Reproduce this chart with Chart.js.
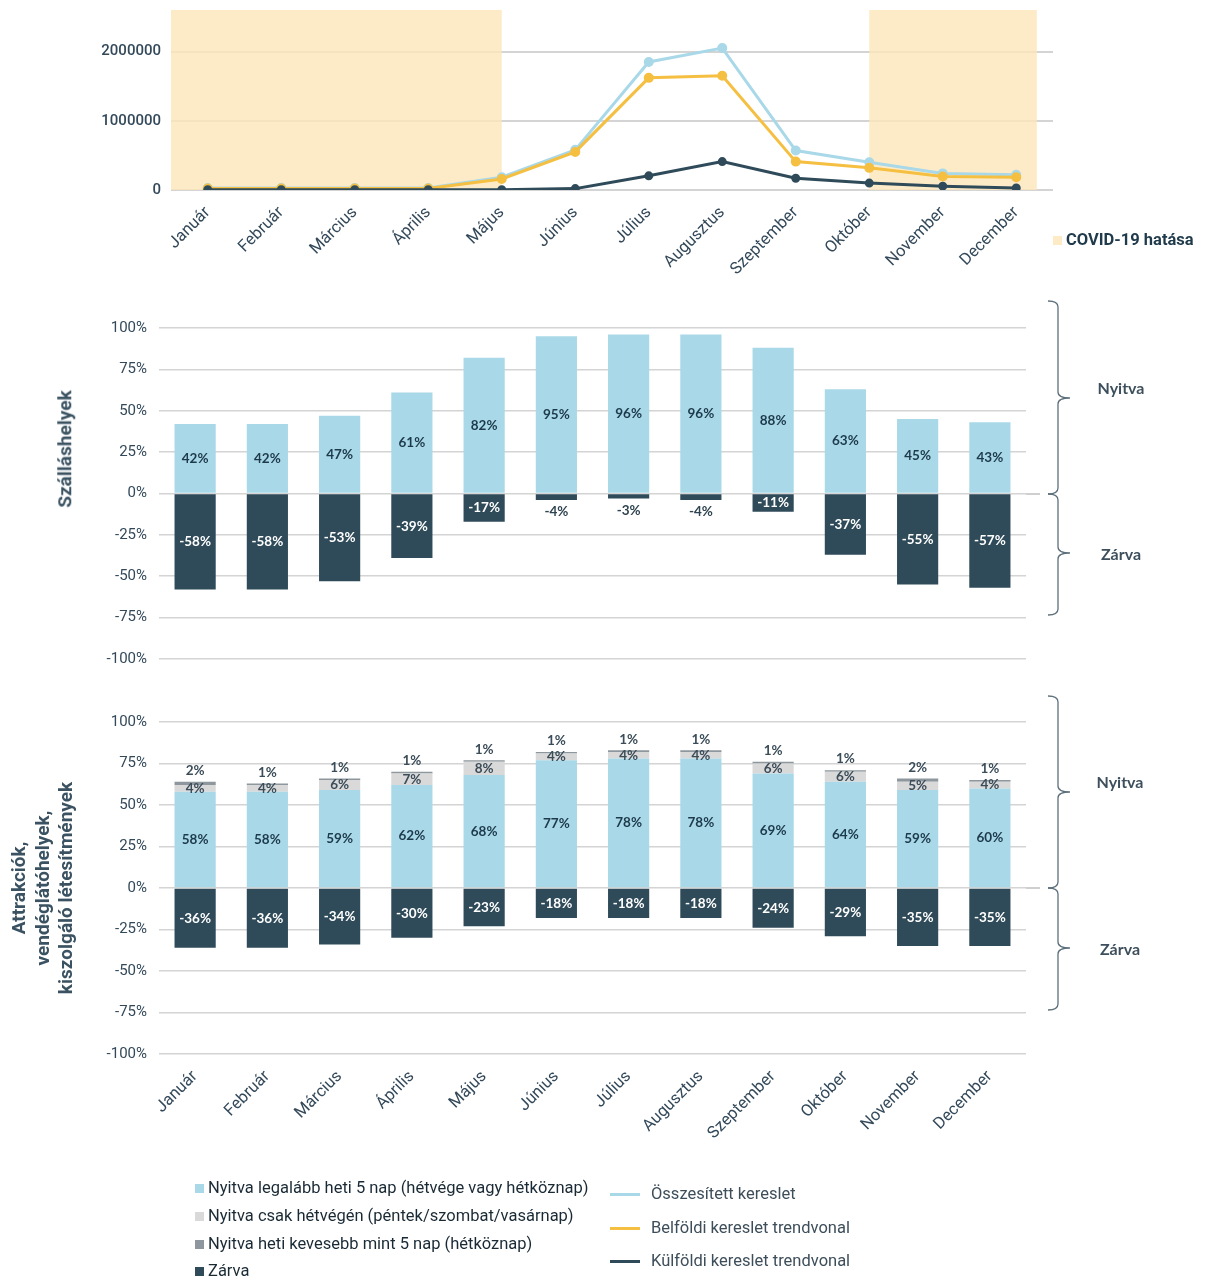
<!DOCTYPE html>
<html><head><meta charset="utf-8">
<script src="https://cdn.jsdelivr.net/npm/chart.js@4.4.0/dist/chart.umd.min.js"></script>
<style>
html,body{margin:0;padding:0;background:#fff;width:1206px;height:1276px;overflow:hidden;font-family:Roboto,sans-serif;}
.box{position:absolute;left:0;width:1206px;}
.ovl{position:absolute;white-space:nowrap;}
.ytitle{position:absolute;font-weight:bold;font-size:19px;color:#3a5261;text-align:center;line-height:23.5px;transform:translate(-50%,-50%) rotate(-90deg);white-space:nowrap;}
.brlab{position:absolute;font-family:Lato,sans-serif;font-weight:bold;font-size:16px;color:#3d4f5c;transform:translate(-50%,-50%);}
.lg{position:absolute;font-size:16.5px;white-space:nowrap;}
.sq{display:inline-block;width:9px;height:9px;margin-right:4px;vertical-align:0px;}
.ln{position:absolute;width:30px;height:3px;}
</style></head><body>
<div class="box" style="top:0;height:280px"><canvas id="c1"></canvas></div>
<div class="box" style="top:290px;height:385px"><canvas id="c2"></canvas></div>
<div class="box" style="top:690px;height:450px"><canvas id="c3"></canvas></div>

<div class="ovl" style="left:1053px;top:230px;font-weight:bold;font-size:16.5px;color:#1f3a4a;"><span class="sq" style="background:#fdebc8;"></span>COVID-19 hatása</div>

<div class="ytitle" style="left:65px;top:449px;">Szálláshelyek</div>
<div class="ytitle" style="left:42px;top:888px;">Attrakciók,<br>vendéglátóhelyek,<br>kiszolgáló létesítmények</div>

<svg style="position:absolute;left:0;top:0" width="1206" height="1276">
  <g fill="none" stroke="#5d707c" stroke-width="1.3">
    <line x1="1026" y1="494" x2="1040" y2="494" stroke="#bfbfbf" stroke-width="1.5"/>
    <line x1="1026" y1="888" x2="1040" y2="888" stroke="#bfbfbf" stroke-width="1.5"/>
    <path d="M1048 301 Q1058 301 1058 307 L1058 392 Q1058 398 1070 398 Q1058 398 1058 404 L1058 488 Q1058 494 1048 494"/>
    <path d="M1048 494 Q1058 494 1058 500 L1058 547 Q1058 553 1070 553 Q1058 553 1058 559 L1058 609 Q1058 615 1048 615"/>
    <path d="M1048 696 Q1058 696 1058 702 L1058 786 Q1058 792 1070 792 Q1058 792 1058 798 L1058 882 Q1058 888 1048 888"/>
    <path d="M1048 888 Q1058 888 1058 894 L1058 942 Q1058 948 1070 948 Q1058 948 1058 954 L1058 1004 Q1058 1010 1048 1010"/>
  </g>
</svg>
<div class="brlab" style="left:1121px;top:387px;">Nyitva</div>
<div class="brlab" style="left:1121px;top:553px;">Zárva</div>
<div class="brlab" style="left:1120px;top:781px;">Nyitva</div>
<div class="brlab" style="left:1120px;top:948px;">Zárva</div>

<div class="lg" style="left:195px;top:1178px;color:#1a2a35;"><span class="sq" style="background:#a9d8e8;"></span>Nyitva legalább heti 5 nap (hétvége vagy hétköznap)</div>
<div class="lg" style="left:195px;top:1206px;color:#1a2a35;"><span class="sq" style="background:#d9d9d9;"></span>Nyitva csak hétvégén (péntek/szombat/vasárnap)</div>
<div class="lg" style="left:195px;top:1234px;color:#1a2a35;"><span class="sq" style="background:#8d979d;"></span>Nyitva heti kevesebb mint 5 nap (hétköznap)</div>
<div class="lg" style="left:195px;top:1261px;color:#1a2a35;"><span class="sq" style="background:#2f4b5a;"></span>Zárva</div>

<div class="ln" style="left:610px;top:1193px;background:#a9d8e8;"></div>
<div class="ln" style="left:610px;top:1227px;background:#f5bf42;"></div>
<div class="ln" style="left:610px;top:1260px;background:#2f4b5a;"></div>
<div class="lg" style="left:651px;top:1184px;color:#3d4e5a;">Összesített kereslet</div>
<div class="lg" style="left:651px;top:1218px;color:#3d4e5a;">Belföldi kereslet trendvonal</div>
<div class="lg" style="left:651px;top:1251px;color:#3d4e5a;">Külföldi kereslet trendvonal</div>

<script>
// ---- data ----
const months = ['Január','Február','Március','Április','Május','Június','Július','Augusztus','Szeptember','Október','November','December'];
const totalDemand    = [30000,30000,30000,30000,185000,580000,1850000,2050000,570000,400000,240000,220000];
const domesticDemand = [22000,22000,22000,22000,160000,550000,1620000,1650000,410000,320000,195000,185000];
const foreignDemand  = [5000,5000,5000,5000,5000,20000,205000,410000,170000,100000,55000,30000];
const demandTicks = [0,1000000,2000000];
const covidBands = [[-0.5,4],[9,11.28]];

const lodgingOpen   = [42,42,47,61,82,95,96,96,88,63,45,43];
const lodgingClosed = [-58,-58,-53,-39,-17,-4,-3,-4,-11,-37,-55,-57];

const attrOpen5   = [58,58,59,62,68,77,78,78,69,64,59,60];
const attrWeekend = [4,4,6,7,8,4,4,4,6,6,5,4];
const attrFewer   = [2,1,1,1,1,1,1,1,1,1,2,1];
const attrClosed  = [-36,-36,-34,-30,-23,-18,-18,-18,-24,-29,-35,-35];
const pctTicks = [-100,-75,-50,-25,0,25,50,75,100];

// ---- styles ----
const C_LIGHT = '#a9d8e8', C_GRAY = '#d9d9d9', C_MID = '#8d979d', C_DARK = '#2f4b5a';
const C_ORANGE = '#f5bf42', TXT = '#33495a', GRID = '#d4d4d4';

const bandPlugin = {
  id:'bands',
  beforeDatasetsDraw(chart){
    const {ctx, chartArea, scales:{x}} = chart;
    ctx.save();
    ctx.fillStyle = 'rgba(252,230,188,0.82)';
    covidBands.forEach(([a,b])=>{
      const x0 = x.getPixelForValue(a), x1 = x.getPixelForValue(b);
      ctx.fillRect(x0, chartArea.top, x1-x0, chartArea.bottom-chartArea.top);
    });
    ctx.restore();
  }
};

const labelPlugin = {
  id:'vlabels',
  afterDatasetsDraw(chart){
    const ctx = chart.ctx;
    ctx.save();
    ctx.font = 'bold 13.5px Lato, sans-serif';
    ctx.textAlign = 'center';
    ctx.textBaseline = 'middle';
    chart.data.datasets.forEach((ds,di)=>{
      if(!ds.labelMode) return;
      const meta = chart.getDatasetMeta(di);
      meta.data.forEach((el,i)=>{
        const v = ds.data[i];
        let y, color = ds.labelColor;
        if(ds.labelMode==='center'){ y = (el.y+el.base)/2; }
        else if(ds.labelMode==='above'){ y = el.y - 11; }
        else if(ds.labelMode==='closed'){
          if(Math.abs(v)<=5){ y = el.y + 12; color = '#2f4450'; }
          else y = (el.y+el.base)/2;
        }
        ctx.fillStyle = color;
        ctx.fillText(v + '%', el.x, y);
      });
    });
    ctx.restore();
  }
};

Chart.defaults.font.family = 'Roboto, sans-serif';
Chart.defaults.color = TXT;
Chart.defaults.animation = false;

// ---- top line chart ----
new Chart(document.getElementById('c1'), {
  type:'line',
  data:{labels:months, datasets:[
    {data:totalDemand, borderColor:C_LIGHT, backgroundColor:C_LIGHT, borderWidth:3, pointRadius:3.5, order:3},
    {data:domesticDemand, borderColor:C_ORANGE, backgroundColor:C_ORANGE, borderWidth:3, pointRadius:3.5, order:2},
    {data:foreignDemand, borderColor:C_DARK, backgroundColor:C_DARK, borderWidth:3, pointRadius:3, order:1}
  ]},
  options:{
    responsive:true, maintainAspectRatio:false,
    layout:{padding:{top:10,right:153,left:0,bottom:0}},
    plugins:{legend:{display:false}, tooltip:{enabled:false}},
    scales:{
      x:{offset:true, grid:{display:false}, border:{display:false},
         ticks:{autoSkip:false, minRotation:45, maxRotation:45, padding:5, color:TXT, font:{size:16.5}},
         afterFit(s){ s.height = 90; s.paddingLeft = 0; s.paddingRight = 0; }},
      y:{min:0, max:2600000, grid:{color:GRID, lineWidth:2, drawTicks:false}, border:{display:false},
         afterBuildTicks(s){ s.ticks = demandTicks.map(v=>({value:v})); },
         ticks:{padding:10, color:TXT, font:{size:15, weight:'500'}, callback:v=>String(v)},
         afterFit(s){ s.width = 171; s.paddingTop = 0; s.paddingBottom = 0; }}
    }
  },
  plugins:[bandPlugin]
});

function pctY(){
  return {min:-100, max:100, grid:{color:GRID, lineWidth:1.6, drawTicks:false}, border:{display:false},
    afterBuildTicks(s){ s.ticks = pctTicks.map(v=>({value:v})); },
    ticks:{padding:12, color:TXT, font:{size:15}, callback:v=>v+'%'},
    stacked:true, afterFit(s){ s.width = 159; s.paddingTop = 0; s.paddingBottom = 0; }};
}

// ---- middle chart ----
new Chart(document.getElementById('c2'), {
  type:'bar',
  data:{labels:months, datasets:[
    {data:lodgingOpen, backgroundColor:C_LIGHT, barPercentage:0.57, categoryPercentage:1, labelMode:'center', labelColor:'#1d3a4a'},
    {data:lodgingClosed, backgroundColor:C_DARK, barPercentage:0.57, categoryPercentage:1, labelMode:'closed', labelColor:'#ffffff'}
  ]},
  options:{
    responsive:true, maintainAspectRatio:false,
    layout:{padding:{top:38,right:180,left:0,bottom:16}},
    plugins:{legend:{display:false}, tooltip:{enabled:false}},
    scales:{ x:{display:false, stacked:true}, y:pctY() }
  },
  plugins:[labelPlugin]
});

// ---- bottom chart ----
new Chart(document.getElementById('c3'), {
  type:'bar',
  data:{labels:months, datasets:[
    {data:attrOpen5, backgroundColor:C_LIGHT, barPercentage:0.57, categoryPercentage:1, labelMode:'center', labelColor:'#1d3a4a'},
    {data:attrWeekend, backgroundColor:C_GRAY, barPercentage:0.57, categoryPercentage:1, labelMode:'center', labelColor:'#3b4d59'},
    {data:attrFewer, backgroundColor:C_MID, barPercentage:0.57, categoryPercentage:1, labelMode:'above', labelColor:'#3b4d59'},
    {data:attrClosed, backgroundColor:C_DARK, barPercentage:0.57, categoryPercentage:1, labelMode:'closed', labelColor:'#ffffff'}
  ]},
  options:{
    responsive:true, maintainAspectRatio:false,
    layout:{padding:{top:32,right:180,left:0,bottom:0}},
    plugins:{legend:{display:false}, tooltip:{enabled:false}},
    scales:{
      x:{stacked:true, grid:{display:false}, border:{display:false},
         ticks:{autoSkip:false, minRotation:45, maxRotation:45, padding:5, color:TXT, font:{size:16.5}},
         afterFit(s){ s.height = 86; s.paddingLeft = 0; s.paddingRight = 0; }},
      y:pctY()
    }
  },
  plugins:[labelPlugin]
});
</script>
</body></html>
